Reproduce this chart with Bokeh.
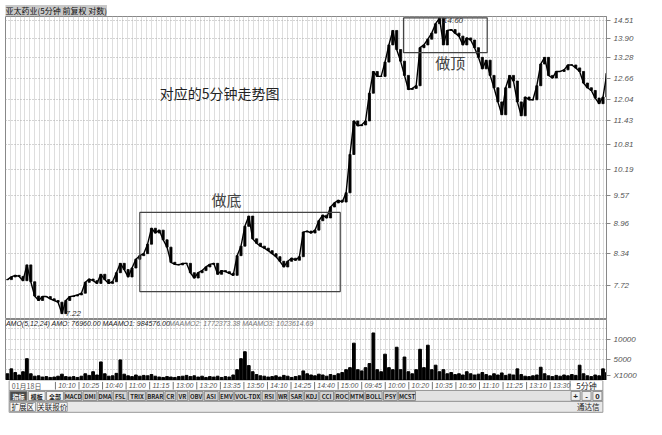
import numpy as np
from bokeh.plotting import figure
from bokeh.layouts import column
from bokeh.models import (Range1d, FixedTicker, Label, BoxAnnotation, ColumnDataSource,
                          PrintfTickFormatter, CustomJSTickFormatter)
from bokeh.embed import file_html
from bokeh.resources import INLINE
from bokeh.core.properties import value

# ---------------- data ----------------
title_text = "亚太药业(5分钟 前复权 对数)"
close = [
    7.83, 7.88, 7.91, 7.89, 7.81, 8.11, 7.79, 7.53, 7.45, 7.52,
    7.52, 7.48, 7.45, 7.42, 7.22, 7.45, 7.52, 7.53, 7.55, 7.58,
    7.78, 7.84, 7.81, 7.76, 7.93, 7.83, 7.76, 7.79, 7.96, 8.14,
    8.02, 7.88, 8.05, 8.22, 8.29, 8.33, 8.52, 8.85, 8.75, 8.81,
    8.61, 8.46, 8.16, 8.12, 8.11, 8.14, 8.14, 7.96, 7.86, 7.96,
    8.00, 8.07, 8.12, 8.14, 7.93, 8.00, 7.98, 7.95, 7.91, 8.29,
    8.48, 8.89, 9.11, 8.63, 8.54, 8.48, 8.44, 8.39, 8.33, 8.27,
    8.18, 8.07, 8.18, 8.24, 8.20, 8.27, 8.77, 8.79, 8.75, 8.81,
    9.01, 9.13, 9.07, 9.31, 9.40, 9.46, 9.42, 9.63, 10.55, 11.43,
    11.30, 11.32, 11.43, 12.21, 12.86, 12.71, 12.71, 13.15, 13.70, 14.18,
    13.55, 13.18, 12.74, 12.32, 12.35, 12.43, 13.61, 13.70, 13.89, 14.09,
    14.41, 14.60, 13.70, 14.18, 14.21, 14.09, 13.99, 13.70, 13.93, 13.86,
    13.61, 13.30, 12.94, 13.21, 12.74, 12.37, 11.96, 11.60, 12.37, 12.74,
    12.57, 11.96, 11.57, 12.10, 12.02, 12.02, 12.43, 13.09, 13.30, 12.74,
    12.66, 12.86, 12.86, 12.91, 13.06, 13.06, 12.97, 12.86, 12.51, 12.37,
    12.29, 12.07, 11.91, 12.10, 12.80,
]
volume = [
    1500, 2700, 1800, 1200, 2000, 5200, 1500, 900, 1000, 700,
    800, 600, 700, 900, 1400, 800, 700, 800, 600, 900,
    1500, 1100, 2000, 1200, 4400, 1500, 900, 1000, 1600, 4900,
    1400, 1000, 800, 1200, 900, 1100, 1000, 1300, 900, 700,
    600, 800, 700, 600, 800, 900, 1100, 800, 1000, 700,
    900, 600, 800, 700, 900, 600, 800, 700, 1200, 2500,
    5200, 6900, 3500, 2000, 1300, 1000, 900, 700, 800, 1000,
    700, 1100, 900, 600, 800, 1000, 2200, 1500, 1200, 1000,
    1400, 1200, 900, 1300, 1100, 1500, 1800, 2500, 3000, 9000,
    2500, 2200, 3000, 4000, 11500, 2500, 2000, 6300, 3000, 2500,
    8000, 2500, 5600, 2000, 1500, 2500, 7500, 3000, 8500, 2500,
    3600, 2000, 2500, 1500, 1800, 1300, 1500, 1200, 2000, 1500,
    1200, 1400, 1800, 1300, 1000, 1500, 1200, 1700, 1100, 1400,
    1200, 2700, 1300, 900, 800, 1000, 1200, 3100, 1500, 1000,
    800, 1100, 900, 1200, 1000, 1300, 1100, 3600, 1500, 1000,
    800, 1200, 1000, 2700, 1800,
]
price_ticks = [7.72, 8.34, 8.96, 9.57, 10.19, 10.81, 11.43, 12.04, 12.66, 13.28, 13.90, 14.51]
vol_ticks = [5000, 10000]
vol_unit = "X1000"
amo_text_main = "AMO(5,12,24)  AMO: 76960.00  MAAMO1: 984576.00"
amo_text_rest = "MAAMO2: 1772373.38  MAAMO3: 1023614.69"
date_label = "01月18日"
time_labels = ["10:10", "10:25", "10:40", "11:00", "11:15", "13:00", "13:20", "13:35",
               "13:50", "14:10", "14:25", "14:40", "15:00", "09:45", "10:00", "10:20",
               "10:35", "10:50", "11:10", "11:25", "13:10", "13:30"]
period_label = "5分钟"
tab_labels = ["指标", "模板", "全部", "MACD", "DMI", "DMA", "FSL", "TRIX", "BRAR", "CR", "VR",
              "OBV", "ASI", "EMV", "VOL-TDX", "RSI", "WR", "SAR", "KDJ", "CCI", "ROC", "MTM",
              "BOLL", "PSY", "MCST"]
zoom_buttons = ["+", "-", "0"]
bottom_tabs = ["扩展区", "关联报价"]
brand = "通达信"
note_main = "对应的5分钟走势图"
note_bottom = "做底"
note_top = "做顶"

# ---------------- layout constants ----------------
W = 645
CJK = "Noto Sans CJK SC"
LAT = "Liberation Sans"
GRID = "#bdbdbd"

idx = np.arange(len(close))
opens = [close[0]] + close[:-1]
src = ColumnDataSource(dict(
    i=idx, close=close, vol=volume,
    top=np.maximum(opens, close), bot=np.minimum(opens, close),
))

xr = Range1d(-0.5, 153.9)
vgrid_ticks = list(np.arange(-0.5, 154, 1.25))


def style_axis(a):
    a.major_label_text_font = LAT
    a.major_label_text_font_size = "8px"
    a.major_label_text_font_style = "italic"
    a.major_label_text_color = "#555555"
    a.major_tick_out = 4
    a.major_tick_in = 0
    a.minor_tick_out = 0
    a.minor_tick_in = 0
    a.axis_line_color = "#888888"
    a.major_tick_line_color = "#888888"
    a.major_label_standoff = 3


# ---------------- price panel ----------------
pa = figure(width=W, height=319, output_backend="svg", toolbar_location=None,
            x_range=xr, y_range=Range1d(7.12, 14.66), y_axis_type="log",
            y_axis_location="right", x_axis_location=None,
            min_border_left=5, min_border_right=39, min_border_top=16, min_border_bottom=0,
            title=title_text)
pa.title.text_font = CJK
pa.title.text_font_size = "8px"
pa.title.text_font_style = "normal"
pa.title.text_color = "#111111"
pa.title.background_fill_color = "#c8c8c8"
pa.title.standoff = 1
pa.title.offset = 0
pa.outline_line_color = "#888888"

ax = pa.yaxis[0]
ax.ticker = FixedTicker(ticks=price_ticks)
ax.formatter = PrintfTickFormatter(format="%.2f")
style_axis(ax)

pa.ygrid.ticker = FixedTicker(ticks=price_ticks)
pa.ygrid.grid_line_color = "#a8a8a8"
pa.ygrid.grid_line_dash = "1 2"
pa.xgrid.ticker = FixedTicker(ticks=vgrid_ticks)
pa.xgrid.grid_line_color = GRID
pa.xgrid.grid_line_dash = "1 1"

pa.line(x="i", y="close", source=src, line_color="black", line_width=1.4)
pa.vbar(x="i", top="top", bottom="bot", width=0.55, source=src,
        fill_color="black", line_color="black", line_width=0.8)

pa.add_layout(BoxAnnotation(left=34, right=85.5, bottom=7.61, top=9.19,
                            fill_alpha=0, line_color="#444444", line_alpha=1, line_width=1.2))
pa.add_layout(BoxAnnotation(left=101.75, right=123.25, bottom=13.45, top=14.61,
                            fill_alpha=0, line_color="#444444", line_alpha=1, line_width=1.2))

pa.add_layout(Label(x=54.5, y=12.22, text=note_main, text_font=CJK, text_font_size="14px",
                    text_align="center", text_baseline="middle", text_color="#222222"))
pa.add_layout(Label(x=56.25, y=9.47, text=note_bottom, text_font=CJK, text_font_size="15px",
                    text_align="center", text_baseline="middle", text_color="#444444"))
pa.add_layout(Label(x=113.75, y=13.15, text=note_top, text_font=CJK, text_font_size="15px",
                    text_align="center", text_baseline="middle", text_color="#444444"))

imax = int(np.argmax(close))
imin = int(np.argmin(close))
pa.add_layout(Label(x=imax + 0.9, y=close[imax], text=f"{close[imax]:.2f}", text_font=LAT,
                    text_font_size="8px", text_font_style="italic", text_align="left",
                    text_baseline="top", text_color="#333333"))
pa.add_layout(Label(x=imin + 0.9, y=close[imin], text=f"{close[imin]:.2f}", text_font=LAT,
                    text_font_size="8px", text_font_style="italic", text_align="left",
                    text_baseline="middle", text_color="#333333"))

# ---------------- volume panel ----------------
pb = figure(width=W, height=61, output_backend="svg", toolbar_location=None,
            x_range=xr, y_range=Range1d(-150, 14800),
            y_axis_location="right", x_axis_location=None,
            min_border_left=5, min_border_right=39, min_border_top=0, min_border_bottom=0)
pb.outline_line_color = "#888888"
bx = pb.yaxis[0]
unit_level = 1100
bx.ticker = FixedTicker(ticks=vol_ticks + [unit_level])
bx.formatter = CustomJSTickFormatter(
    args=dict(u=unit_level, lab=vol_unit),
    code="return (tick == u) ? lab : tick.toFixed(0);")
style_axis(bx)
pb.ygrid.ticker = FixedTicker(ticks=[2500, 5000, 7500, 10000, 12500])
pb.ygrid.grid_line_color = "#b0b0b0"
pb.ygrid.grid_line_dash = "1 2"
pb.xgrid.ticker = FixedTicker(ticks=vgrid_ticks)
pb.xgrid.grid_line_color = GRID
pb.xgrid.grid_line_dash = "1 1"

pb.vbar(x="i", top="vol", bottom=0, width=0.7, source=src, fill_color="black", line_color="black")
pb.add_layout(Label(x=-0.4, y=14800, text=amo_text_main, text_font=LAT, text_font_size="7px",
                    text_font_style="italic", text_baseline="top", text_color="#222222"))
pb.add_layout(Label(x=41.5, y=14800, text=amo_text_rest, text_font=LAT, text_font_size="7px",
                    text_font_style="italic", text_baseline="top", text_color="#777777"))

# ---------------- bottom bars (time axis, tabs, status row) ----------------
pc = figure(width=W, height=38, output_backend="svg", toolbar_location=None,
            x_range=Range1d(0, 662), y_range=Range1d(435, 395),
            x_axis_location=None, y_axis_location=None, min_border=0)
pc.outline_line_color = None
pc.grid.visible = False

# time axis row
pc.quad(left=[4], right=[622], top=[395], bottom=[405.5], fill_color="white", line_color="#999999")
pc.quad(left=[622], right=[658], top=[395], bottom=[405.5], fill_color="white", line_color="#999999")
tx = [58 + 25.95 * k for k in range(len(time_labels))]
pc.segment(x0=[x - 3 for x in tx], y0=[396.5] * len(tx), x1=[x - 3 for x in tx], y1=[404.5] * len(tx),
           line_color="#777777", line_width=1)
pc.text(x=tx, y=[400.3] * len(tx), text=time_labels, text_font=value(LAT), text_font_size="7px",
        text_font_style="italic", text_color="#555555", text_baseline="middle", text_align="left")
pc.text(x=[7], y=[400.3], text=[date_label], text_font=value(CJK), text_font_size="7px",
        text_color="#555555", text_baseline="middle", text_align="left")
pc.text(x=[640], y=[400.3], text=[period_label], text_font=value(CJK), text_font_size="8px",
        text_color="#222222", text_baseline="middle", text_align="center")

# tab row
pc.quad(left=[4], right=[658], top=[405.5], bottom=[417], fill_color="#e2e2e2", line_color="#999999")


def units(s):
    return sum(2 if ord(c) > 127 else 1 for c in s)


lefts, rights = [], []
x0 = 5.0
for lab in tab_labels:
    w = 3.4 * units(lab) + 5
    lefts.append(x0)
    rights.append(x0 + w)
    x0 += w + 1.5
fills = ["#4a4a4a"] + ["#f4f4f4"] * 2 + ["#d4d4d4"] * (len(tab_labels) - 3)
tcols = ["white"] + ["#222222"] * (len(tab_labels) - 1)
pc.quad(left=lefts, right=rights, top=[406.5] * len(lefts), bottom=[416] * len(lefts),
        fill_color=fills, line_color="#777777", line_width=0.8)
cx = [(a + b) / 2 for a, b in zip(lefts, rights)]
pc.text(x=cx, y=[411.5] * len(cx), text=tab_labels, text_font=value(CJK), text_font_size="6px",
        text_font_style="bold", text_color=tcols, text_baseline="middle", text_align="center")
bxs = [628, 640, 652]
pc.quad(left=[b - 5 for b in bxs], right=[b + 5 for b in bxs], top=[406.5] * 3, bottom=[416] * 3,
        fill_color="#f0f0f0", line_color="#777777", line_width=0.8)
pc.text(x=bxs, y=[411.5] * 3, text=zoom_buttons, text_font=value(LAT), text_font_size="8px",
        text_font_style="bold", text_color="#222222", text_baseline="middle", text_align="center")

# status row
pc.quad(left=[4], right=[658], top=[417], bottom=[428.5], fill_color="#e8e8e8", line_color="#999999")
bl = [5, 35]
br = [33, 68]
pc.quad(left=bl, right=br, top=[418] * 2, bottom=[427.5] * 2, fill_color="#f6f6f6",
        line_color="#888888", line_width=0.8)
pc.text(x=[(a + b) / 2 for a, b in zip(bl, br)], y=[422.8] * 2, text=bottom_tabs,
        text_font=value(CJK), text_font_size="7.5px", text_color="#222222",
        text_baseline="middle", text_align="center")
pc.text(x=[642], y=[422.8], text=[brand], text_font=value(CJK), text_font_size="7.5px",
        text_color="#222222", text_baseline="middle", text_align="center")

layout = column(pa, pb, pc, spacing=0)
open("out.html", "w").write(file_html(layout, INLINE))
